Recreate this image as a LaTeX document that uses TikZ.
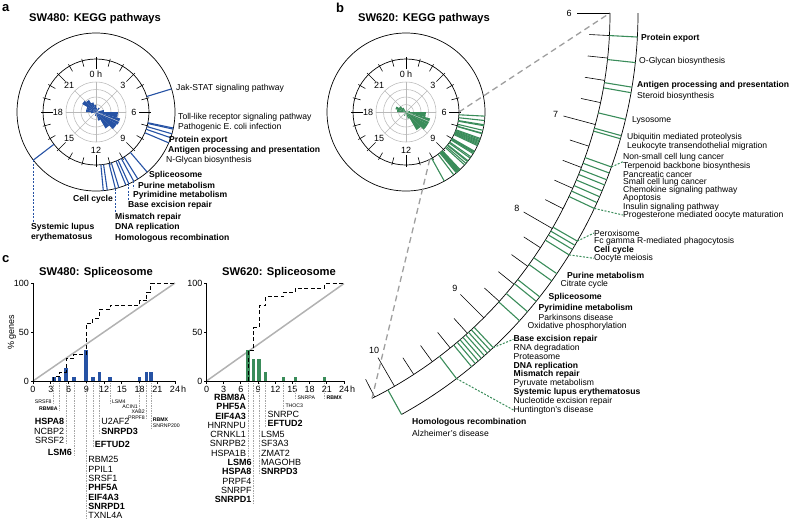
\documentclass[tikz,border=0pt]{standalone}
\usepackage{fontspec}
\setmainfont{Liberation Sans}
\usetikzlibrary{calc}
\definecolor{sblue}{RGB}{38,82,164}
\definecolor{sgreen}{RGB}{58,140,90}
\newcommand{\fs}[2]{\fontsize{#1}{#2}\selectfont}
\newcommand{\clockface}[1]{%
  \draw[line width=0.7pt] (0,0) circle (79);
  \draw[line width=0.7pt] (0,0) circle (53);
  \foreach \h in {0,...,23}{%
    \pgfmathtruncatemacro\mj{mod(\h,3)}%
    \ifnum\mj=0 \draw[line width=0.6pt] (15*\h-90:43) -- (15*\h-90:55);
    \else \draw[line width=0.6pt] (15*\h-90:47) -- (15*\h-90:55);\fi}
  \node[hlab] (#1h0) at (-90:38) {0 h};
  \node[hlab] (#1h3) at (-45:38) {3};
  \node[hlab] (#1h6) at (0:38) {6};
  \node[hlab] (#1h9) at (45:38) {9};
  \node[hlab] (#1h12) at (90:38) {12};
  \node[hlab] (#1h15) at (135:38) {15};
  \node[hlab] (#1h18) at (180:38) {18};
  \node[hlab] (#1h21) at (225:38) {21};
}
\newcommand{\petals}[2]{%
  \foreach \r in {7.5,15,22.5,30} \draw[gray!55, line width=0.55pt] (0,0) circle (\r);
  \foreach \a in {0,45,...,315} \draw[gray!55, line width=0.55pt] (0,0) -- (\a:30);
  \foreach \a/\b/\r in {#2}
    \fill[#1] (0,0) -- (15*\a-90:\r) arc[start angle={15*\a-90}, end angle={15*\b-90}, radius=\r] -- cycle;
  \draw[white!75!gray, line width=0.4pt] (0,0) -- (22.5:26);
}
\begin{document}
\begin{tikzpicture}[x=1pt,y=-1pt,
  title/.style={font=\bfseries\fs{11.2}{13}, inner sep=0pt, anchor=west},
  plet/.style={font=\bfseries\fs{13}{14}, inner sep=0pt, anchor=west},
  lab/.style={font=\fs{8.6}{10}, inner sep=0pt, anchor=west},
  blab/.style={lab, font=\bfseries\fs{8.6}{10}},
  hlab/.style={font=\fs{9}{10}, inner sep=0pt},
  bline/.style={sblue, line width=1.1pt},
  gline/.style={sgreen, line width=1.1pt},
  bdash/.style={sblue, line width=1pt, dash pattern=on 2pt off 1.5pt},
  gdash/.style={sgreen, line width=1pt, dash pattern=on 2pt off 1.5pt},
  zoomdash/.style={gray!75, line width=1.3pt, dash pattern=on 6pt off 4pt},
  axis/.style={line width=0.8pt},
  tick/.style={font=\fs{9}{10}, inner sep=0pt},
  gene/.style={font=\fs{9}{9.3}, inner sep=0pt},
  tinyg/.style={font=\fs{5.2}{6}, inner sep=0pt},
  gconn/.style={gray!70, line width=0.5pt, dash pattern=on 1.5pt off 1pt},
]
\useasboundingbox (0,0) rectangle (794,523);

% ---------------- panel a ----------------
\node[plet] (pa) at (2,8) {a};
\node[title] (ta) at (29,19) {SW480: KEGG pathways};
\begin{scope}[shift={(96,112)}]
  \petals{sblue}{2/3/5,5/6/8,6/7/22,7/8/25,8/9/24,9/10/19,10/11/9,12/13/4,17/18/5,18/19/10,19/20/10,20/21/16,21/22/14,22/23/10,23/24/7,0/1/4}
  \clockface{A}
  \foreach \t in {-17,11.7,12.5,16,19,23,49.6,58,61.4,65.4,67.8,73.2,75.8,81.8,84.7,142.5}
    \draw[bline] (\t:53) -- (\t:79);
  \coordinate (aPurE) at (61.4:79);
  \coordinate (aBaseE) at (65.4:79);
  \coordinate (aMisE) at (75.8:79);
  \coordinate (aSLEE) at (142.5:79);
\end{scope}
\node[lab] (aJak) at (176,88) {Jak-STAT signaling pathway};
\node[lab] (aToll) at (178,117) {Toll-like receptor signaling pathway};
\node[lab] (aPath) at (178,127) {Pathogenic E. coli infection};
\node[blab] (aProt) at (169,140) {Protein export};
\node[blab] (aAnt) at (168,150) {Antigen processing and presentation};
\node[lab] (aNgl) at (166,160) {N-Glycan biosynthesis};
\node[blab] (aSpl) at (149,175) {Spliceosome};
\node[blab] (aPur) at (138,185) {Purine metabolism};
\node[blab] (aPyr) at (133,195.5) {Pyrimidine metabolism};
\node[blab] (aBase) at (128,205) {Base excision repair};
\node[blab, anchor=east] (aCell) at (113,199) {Cell cycle};
\node[blab] (aMis) at (115,217) {Mismatch repair};
\node[blab] (aDNA) at (115,227.5) {DNA replication};
\node[blab] (aHom) at (115,238) {Homologous recombination};
\node[blab, align=left, anchor=north west] (aSLE) at (31,223) {Systemic lupus\\erythematosus};
\draw[bdash] (aPurE) -- (aPurE |- aPur.south);
\draw[bdash] (aBaseE) -- (aBaseE |- aBase.north);
\draw[bdash] (aMisE) -- (aMisE |- aMis.north);
\draw[bdash] (aSLEE) -- (aSLEE |- aSLE.north);

% ---------------- panel b ----------------
\node[plet] (pb) at (336,8) {b};
\node[title] (tb) at (358,19) {SW620: KEGG pathways};
\def\glist{3.0,6.2,9.3,10.0,13.4,15.5,15.9,19.6,20.4,21.3,22.0,22.8,23.6,24.4,25.2,29.8,30.4,31.0,31.8,34.6,35.7,38.2,38.9,40.6,42.1,46.8,47.3,47.8,48.3,48.8,49.3,49.8,50.4,52.8,61.0}
\begin{scope}[shift={(406,112)}]
  \petals{sgreen}{5/6/4,6/7/20,7/8/25,8/9/25,9/10/21,10/11/7,13/14/4,18/19/9,19/20/11,20/21/8,21/22/5}
  \clockface{B}
  \foreach \t in \glist \draw[gline] (\t:53) -- (\t:79);
  \coordinate (s6) at (0:53);
  \coordinate (s10) at (63.4:53);
\end{scope}
\begin{scope}[shift={(179,13)}]
  \draw[line width=0.7pt] (0:431) arc[start angle=0, end angle=63.4, radius=431];
  \draw[line width=0.7pt] (0:459) arc[start angle=0, end angle=61, radius=459];
  \foreach \i in {0,...,21}{%
    \pgfmathtruncatemacro\mj{mod(\i,5)}%
    \ifnum\mj=0 \draw[line width=0.6pt] (3*\i:398) -- (3*\i:431);
    \else \draw[line width=0.6pt] (3*\i:411) -- (3*\i:431);\fi}
  \node[hlab] (Z6) at (0:390) {6};
  \node[hlab] (Z7) at (15:390) {7};
  \node[hlab] (Z8) at (30:390) {8};
  \node[hlab] (Z9) at (45:390) {9};
  \node[hlab] (Z10) at (60:390) {10};
  \foreach \t in \glist \draw[gline] (\t:431) -- (\t:459);
  \coordinate (B6) at (0:431);
  \coordinate (B10) at (63.4:431);
  \coordinate (eNS) at (19.6:459);
  \coordinate (eProg) at (25.2:459);
  \coordinate (ePer) at (29.8:459);
  \coordinate (eOoc) at (31.8:459);
  \coordinate (eBase) at (46.8:459);
  \coordinate (eHunt) at (52.8:459);
\end{scope}
\draw[zoomdash] (s6) -- (B6);
\draw[zoomdash] (s10) -- (B10);

\node[blab] (b1) at (641,38) {Protein export};
\node[lab] (b2) at (639,61) {O-Glycan biosynthesis};
\node[blab] (b3) at (637,85) {Antigen processing and presentation};
\node[lab] (b4) at (637,96) {Steroid biosynthesis};
\node[lab] (b5) at (632,120) {Lysosome};
\node[lab] (b6) at (627,137) {Ubiquitin mediated proteolysis};
\node[lab] (b7) at (627,146) {Leukocyte transendothelial migration};
\node[lab] (bNS) at (623,157.5) {Non-small cell lung cancer};
\node[lab] (b9) at (623,166) {Terpenoid backbone biosynthesis};
\node[lab] (b10) at (623,174) {Pancreatic cancer};
\node[lab] (b11) at (623,182.5) {Small cell lung cancer};
\node[lab] (b12) at (623,190.5) {Chemokine signaling pathway};
\node[lab] (b13) at (623,198.5) {Apoptosis};
\node[lab] (b14) at (623,207) {Insulin signaling pathway};
\node[lab] (bProg) at (623,215) {Progesterone mediated oocyte maturation};
\node[lab] (bPer) at (594,233) {Peroxisome};
\node[lab] (b17) at (594,241.7) {Fc gamma R-mediated phagocytosis};
\node[blab] (b18) at (594,250) {Cell cycle};
\node[lab] (bOoc) at (594,258.3) {Oocyte meiosis};
\node[blab] (b20) at (567,275.5) {Purine metabolism};
\node[lab] (b21) at (560.5,284) {Citrate cycle};
\node[blab] (b22) at (548.5,297.7) {Spliceosome};
\node[blab] (b23) at (538.5,308.3) {Pyrimidine metabolism};
\node[lab] (b24) at (538.5,317.7) {Parkinsons disease};
\node[lab] (b25) at (527.5,326.7) {Oxidative phosphorylation};
\node[blab] (bBase) at (513.5,339.3) {Base excision repair};
\node[lab] (b27) at (513.5,348.2) {RNA degradation};
\node[lab] (b28) at (513.5,357) {Proteasome};
\node[blab] (b29) at (513.5,365.8) {DNA replication};
\node[blab] (b30) at (513.5,374.6) {Mismatch repair};
\node[lab] (b31) at (513.5,383.5) {Pyruvate metabolism};
\node[blab] (b32) at (513.5,392.5) {Systemic lupus erythematosus};
\node[lab] (b33) at (513.5,401.3) {Nucleotide excision repair};
\node[lab] (bHunt) at (513.5,410) {Huntington's disease};
\node[blab] (b35) at (412,422) {Homologous recombination};
\node[lab] (b36) at (412,433.5) {Alzheimer's disease};
\draw[gdash] (eNS) -- (bNS.south west);
\draw[gdash] (eProg) -- (bProg.west);
\draw[gdash] (ePer) -- (bPer.west);
\draw[gdash] (eOoc) -- (bOoc.west);
\draw[gdash] (eBase) -- (bBase.west);
\draw[gdash] (eHunt) -- (bHunt.west);

% ---------------- panel c ----------------
\node[plet] (pc) at (2,259) {c};
\node[title] (tc1) at (39,273) {SW480: Spliceosome};
\node[title] (tc2) at (222,273) {SW620: Spliceosome};

% SW480 chart
\coordinate (o1) at (33,381);
\draw[gray!60, line width=1.5pt] (o1) -- (175,283);
\foreach \h/\n in {3.5/1,4.5/1,5.6/3,6.9/1,9.0/7,10.1/1,11.2/2,13.0/1,18.0/1,19.2/2,19.9/2}
  \fill[sblue] ({33+5.92*\h-1.8},381) rectangle ({33+5.92*\h+1.8},{381-0.98*100/22*\n});
\draw[line width=0.8pt, dash pattern=on 4pt off 2.5pt] (53.7,381) -- (53.7,376.5) -- (59.6,376.5) -- (59.6,372.1) -- (66.2,372.1) -- (66.2,358.7) -- (73.8,358.7) -- (73.8,354.3) -- (86.3,354.3) -- (86.3,323.1) -- (92.8,323.1) -- (92.8,318.6) -- (99.3,318.6) -- (99.3,309.7) -- (110,309.7) -- (110,305.3) -- (139.6,305.3) -- (139.6,300.8) -- (146.7,300.8) -- (146.7,291.9) -- (150.8,291.9) -- (150.8,283) -- (175,283);
\draw[axis] (33,283) -- (o1) -- (175,381);
\foreach \y in {283,332,381} \draw[axis] (33,\y) -- (30.5,\y);
\foreach \h in {0,3,...,24} \draw[axis] ({33+5.92*\h},381) -- ({33+5.92*\h},383.5);
\node[tick, anchor=east] (y100a) at (29,283) {100};
\node[tick, anchor=east] (y50a) at (29,332) {50};
\node[tick, anchor=east] (y0a) at (29,381) {0};
\foreach \h in {0,3,...,21} \node[tick] at ({33+5.92*\h},389.5) {\h};
\node[tick] (x24a) at (175,389.5) {24};
\node[tick, anchor=west] (xha) at (181,389.5) {h};
\node[tick, rotate=90] (ylab) at (12,332) {\% genes};

% SW480 gene labels
\node[tinyg, anchor=east] (gA1) at (51.8,402) {SRSF8};
\node[tinyg, anchor=east, font=\bfseries\fs{5.2}{6}] (gA2) at (57.8,409) {RBM8A};
\node[gene, anchor=north east, align=right] (gA3) at (64.4,418.5) {\textbf{HSPA8}\\NCBP2\\SRSF2};
\node[gene, anchor=east, font=\bfseries\fs{9}{9.3}] (gA4) at (72,452.5) {LSM6};
\node[gene, anchor=north west, align=left] (gA5) at (88.2,456.5) {RBM25\\PPIL1\\SRSF1\\\textbf{PHF5A}\\\textbf{EIF4A3}\\\textbf{SNRPD1}\\TXNL4A};
\node[gene, anchor=west, font=\bfseries\fs{9}{9.3}] (gA6) at (94.6,444) {EFTUD2};
\node[gene, anchor=north west, align=left] (gA7) at (101.1,418.5) {U2AF2\\\textbf{SNRPD3}};
\node[tinyg, anchor=west] (gA8) at (111.8,402) {LSM4};
\node[tinyg, anchor=east] (gA9) at (137.9,407) {ACIN1};
\node[tinyg, anchor=north east, align=right] (gA10) at (145,409.5) {XAB2\\PRPF8};
\node[tinyg, anchor=north west, align=left] (gA11) at (152.6,418) {\textbf{RBMX}\\SNRNP200};
\foreach \x/\g in {53.7/gA1,59.6/gA2,66.2/gA3,73.8/gA4,86.3/gA5,92.8/gA6,99.3/gA7,110/gA8,139.6/gA9,146.7/gA10,150.8/gA11}{
  \coordinate (c\g) at (\x,382.5);
  \draw[gconn] (c\g) -- (c\g |- \g.south);
}

% SW620 chart
\coordinate (o2) at (206.5,381);
\draw[gray!60, line width=1.5pt] (o2) -- (344,283.5);
\foreach \x/\n in {248/7,253.5/5,259/5,265.5/2,283.5/1,295.5/1,324.5/1}
  \fill[sgreen] ({\x-1.8},381) rectangle ({\x+1.8},{381-0.975*100/22*\n});
\draw[line width=0.8pt, dash pattern=on 4pt off 2.5pt] (248,381) -- (248,350) -- (253.5,350) -- (253.5,327.8) -- (259,327.8) -- (259,305.7) -- (265.5,305.7) -- (265.5,296.8) -- (283.5,296.8) -- (283.5,292.4) -- (295.5,292.4) -- (295.5,287.9) -- (324.5,287.9) -- (324.5,283.5) -- (344,283.5);
\draw[axis] (206.5,283.5) -- (o2) -- (344,381);
\foreach \y in {283.5,332,381} \draw[axis] (206.5,\y) -- (204,\y);
\foreach \h in {0,3,...,24} \draw[axis] ({206.5+5.73*\h},381) -- ({206.5+5.73*\h},383.5);
\node[tick, anchor=east] (y100b) at (202.5,283.5) {100};
\node[tick, anchor=east] (y50b) at (202.5,332) {50};
\node[tick, anchor=east] (y0b) at (202.5,381) {0};
\foreach \h in {0,3,...,21} \node[tick] at ({206.5+5.73*\h},389.5) {\h};
\node[tick] (x24b) at (344,389.5) {24};
\node[tick, anchor=west] (xhb) at (350,389.5) {h};

% SW620 gene labels
\node[gene, anchor=north east, align=right] (gB1) at (246.2,394) {\textbf{RBM8A}\\\textbf{PHF5A}\\\textbf{EIF4A3}\\HNRNPU\\CRNKL1\\SNRPB2\\HSPA1B};
\node[gene, anchor=north east, align=right] (gB2) at (251.7,459) {\textbf{LSM6}\\\textbf{HSPA8}\\PRPF4\\SNRPF\\\textbf{SNRPD1}};
\node[gene, anchor=north west, align=left] (gB3) at (260.8,431) {LSM5\\SF3A3\\ZMAT2\\MAGOHB\\\textbf{SNRPD3}};
\node[gene, anchor=north west, align=left] (gB4) at (267.3,411) {SNRPC\\\textbf{EFTUD2}};
\node[tinyg, anchor=west] (gB5) at (285.3,406) {THOC3};
\node[tinyg, anchor=west] (gB6) at (297.3,397.7) {SNRPA};
\node[tinyg, anchor=west, font=\bfseries\fs{5.2}{6}] (gB7) at (326.3,397.7) {RBMX};
\foreach \x/\g in {248/gB1,253.5/gB2,259/gB3,265.5/gB4,283.5/gB5,295.5/gB6,324.5/gB7}{
  \coordinate (c\g) at (\x,382.5);
  \draw[gconn] (c\g) -- (c\g |- \g.south);
}
\end{tikzpicture}
\end{document}
